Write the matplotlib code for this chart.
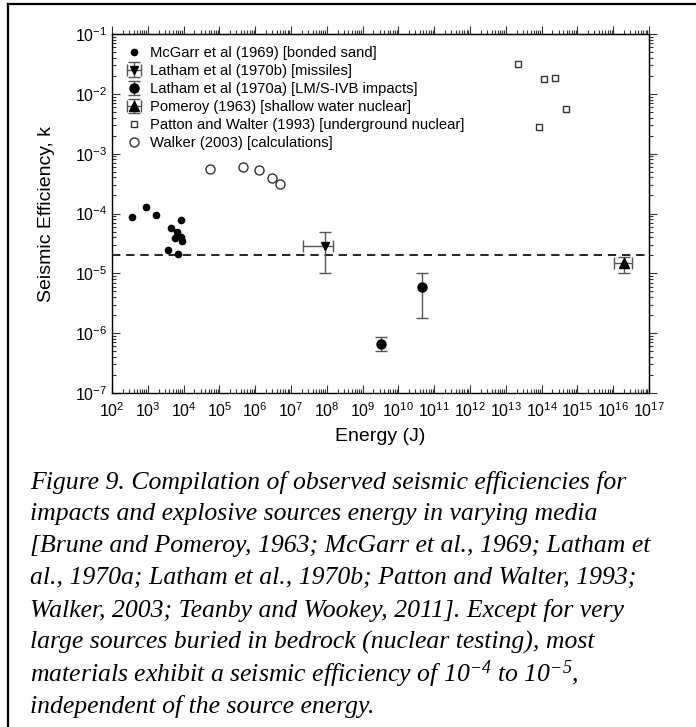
import numpy as np
import matplotlib.pyplot as plt
from matplotlib.lines import Line2D
from matplotlib.ticker import LogLocator, NullFormatter

# --- data ---
mcgarr_E = [370, 890, 1660, 3600, 4480, 5760, 6400, 7100, 8300, 8300, 8900]
mcgarr_k = [8.6e-5, 1.26e-4, 9.3e-5, 2.45e-5, 5.8e-5, 3.9e-5, 4.9e-5, 2.1e-5, 7.8e-5, 4.0e-5, 3.5e-5]

latham_b_E = [9e7]
latham_b_k = [2.9e-5]
latham_b_E_lo = [2.2e7]
latham_b_E_hi = [1.5e8]
latham_b_k_lo = [1.0e-5]
latham_b_k_hi = [5.0e-5]

latham_a_E = [3.2e9, 4.7e10]
latham_a_k = [6.5e-7, 6.0e-6]
latham_a_k_lo = [5.0e-7, 1.8e-6]
latham_a_k_hi = [8.5e-7, 1.0e-5]

pomeroy_E = [2.0e16]
pomeroy_k = [1.5e-5]
pomeroy_E_lo = [1.05e16]
pomeroy_E_hi = [3.3e16]
pomeroy_k_lo = [1.0e-5]
pomeroy_k_hi = [1.9e-5]

patton_E = [2.2e13, 8.7e13, 1.2e14, 2.3e14, 4.7e14]
patton_k = [3.15e-2, 2.75e-3, 1.8e-2, 1.86e-2, 5.5e-3]

walker_E = [5.3e4, 4.7e5, 1.3e6, 2.9e6, 5.0e6]
walker_k = [5.5e-4, 6.0e-4, 5.3e-4, 3.9e-4, 3.1e-4]

k_ref = 2e-5

caption_lines = [
    "Figure 9. Compilation of observed seismic efficiencies for",
    "impacts and explosive sources energy in varying media",
    "[Brune and Pomeroy, 1963; McGarr et al., 1969; Latham et",
    "al., 1970a; Latham et al., 1970b; Patton and Walter, 1993;",
    "Walker, 2003; Teanby and Wookey, 2011]. Except for very",
    "large sources buried in bedrock (nuclear testing), most",
    r"materials exhibit a seismic efficiency of 10$^{-4}$ to 10$^{-5}$,",
    "independent of the source energy.",
]

plt.rcParams['font.family'] = ['Liberation Sans', 'DejaVu Sans']
plt.rcParams['axes.unicode_minus'] = False
plt.rcParams['mathtext.fontset'] = 'custom'
plt.rcParams['mathtext.rm'] = 'Liberation Serif:italic'
plt.rcParams['mathtext.it'] = 'Liberation Serif:italic'


def asym(center, lo, hi):
    c = np.array(center)
    return [c - np.array(lo), np.array(hi) - c]


def log_ticks(axis):
    axis.set_major_locator(LogLocator(base=10, numticks=30))
    axis.set_minor_locator(LogLocator(base=10, subs=np.arange(2, 10), numticks=30))
    axis.set_minor_formatter(NullFormatter())


fig = plt.figure(figsize=(6.96, 7.27), dpi=100)
W, H = 696, 727
ax = fig.add_axes([112 / W, 1 - 393 / H, (649 - 112) / W, (393 - 34) / H])

err_kw = dict(ecolor='#555555', elinewidth=1.0, capsize=4, capthick=1.0, linestyle='none')

h1, = ax.plot(mcgarr_E, mcgarr_k, 'o', color='black', ms=4.5, label='McGarr et al (1969) [bonded sand]')
h2 = ax.errorbar(latham_b_E, latham_b_k,
                 xerr=asym(latham_b_E, latham_b_E_lo, latham_b_E_hi),
                 yerr=asym(latham_b_k, latham_b_k_lo, latham_b_k_hi),
                 marker='v', color='black', ms=6, label='Latham et al (1970b) [missiles]', **err_kw)
h3 = ax.errorbar(latham_a_E, latham_a_k,
                 yerr=asym(latham_a_k, latham_a_k_lo, latham_a_k_hi),
                 marker='o', color='black', ms=6.5, label='Latham et al (1970a) [LM/S-IVB impacts]', **err_kw)
h4 = ax.errorbar(pomeroy_E, pomeroy_k,
                 xerr=asym(pomeroy_E, pomeroy_E_lo, pomeroy_E_hi),
                 yerr=asym(pomeroy_k, pomeroy_k_lo, pomeroy_k_hi),
                 marker='^', color='black', ms=7, label='Pomeroy (1963) [shallow water nuclear]', **err_kw)
h5, = ax.plot(patton_E, patton_k, 's', mfc='white', mec='#333333', mew=1.0, ms=5,
              label='Patton and Walter (1993) [underground nuclear]')
h6, = ax.plot(walker_E, walker_k, 'o', mfc='white', mec='#333333', mew=1.0, ms=6.5,
              label='Walker (2003) [calculations]')

ax.axhline(k_ref, color='black', lw=1.2, dashes=(5, 3.5), zorder=0)

ax.set_xscale('log')
ax.set_yscale('log')
ax.set_xlim(1e2, 1e17)
ax.set_ylim(1e-7, 1e-1)
log_ticks(ax.xaxis)
log_ticks(ax.yaxis)

ax.tick_params(which='both', direction='in', labelsize=11.5, width=0.8, color='#333333')
ax.tick_params(which='major', length=6)
ax.tick_params(which='minor', length=3)
ax.tick_params(axis='x', pad=6)
for s in ax.spines.values():
    s.set_linewidth(1.0)

# top/right ticks point outward
top = ax.secondary_xaxis('top')
log_ticks(top.xaxis)
top.tick_params(which='both', direction='out', labeltop=False, width=0.8, color='#333333')
top.tick_params(which='major', length=6)
top.tick_params(which='minor', length=3)
right = ax.secondary_yaxis('right')
log_ticks(right.yaxis)
right.tick_params(which='both', direction='out', labelright=False, width=0.8, color='#333333')
right.tick_params(which='major', length=6)
right.tick_params(which='minor', length=3)

ax.set_xlabel('Energy (J)', fontsize=14, labelpad=6)
ax.set_ylabel('Seismic Efficiency, k', fontsize=14, labelpad=14)

ax.legend(handles=[h1, h2, h3, h4, h5, h6], loc='upper left', frameon=False,
          fontsize=10.6, handlelength=1.4, handletextpad=0.4, labelspacing=0.28,
          borderaxespad=0.5, borderpad=0.3, numpoints=1)

# caption
for i, line in enumerate(caption_lines):
    fig.text(30 / W, 1 - (482 + 32 * i) / H, line, family='Liberation Serif',
             style='italic', fontsize=18.5, va='center', ha='left')

# outer frame (top and left edges)
fig.add_artist(Line2D([8 / W, 8 / W], [0, 1 - 4 / H], transform=fig.transFigure, color='black', lw=1.6))
fig.add_artist(Line2D([8 / W, 1], [1 - 4 / H, 1 - 4 / H], transform=fig.transFigure, color='black', lw=1.6))

fig.savefig('out.png', dpi=100)
